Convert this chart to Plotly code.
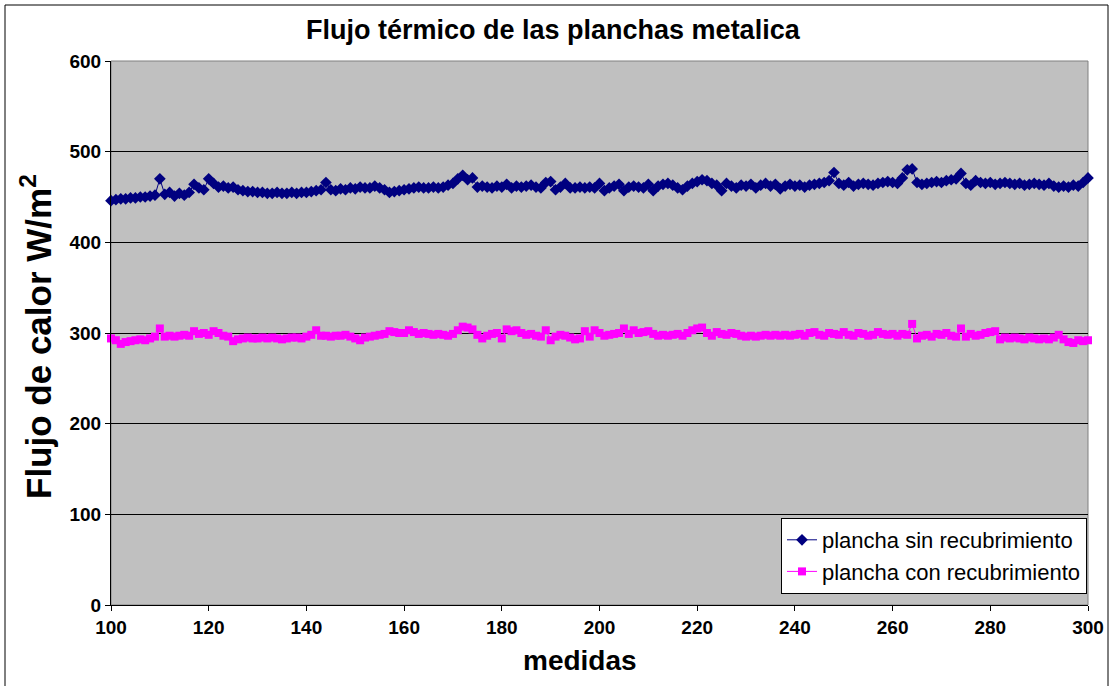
import plotly.graph_objects as go

medidas = list(range(100, 301))

sin_recubrimiento = [
    446, 447, 448, 448, 449, 449, 450, 450, 451, 452,
    470, 453, 455, 451, 454, 452, 455, 464, 460, 458,
    470, 465, 461, 462, 460, 461, 458, 457, 456, 456,
    455, 455, 454, 454, 455, 454, 454, 455, 454, 455,
    455, 456, 457, 458, 466, 458, 457, 459, 458, 460,
    459, 461, 460, 460, 462, 460, 458, 455, 456, 457,
    458, 459, 460, 461, 460, 460, 461, 460, 461, 463,
    465, 470, 474, 469, 471, 461, 462, 461, 460, 462,
    461, 464, 460, 462, 461, 462, 463, 461, 460, 466,
    467, 458, 461, 465, 460, 460, 461, 460, 461, 460,
    465, 457, 460, 462, 464, 457, 461, 462, 461, 460,
    464, 457, 462, 464, 465, 463, 460, 458, 462, 465,
    467, 469, 468, 465, 463, 457, 465, 462, 460, 463,
    462, 464, 460, 463, 465, 462, 464, 459, 462, 464,
    462, 463, 461, 463, 464, 465, 466, 468, 477, 465,
    463, 466, 462, 464, 465, 464, 463, 465, 466, 467,
    466, 465, 471, 480, 481, 466, 464, 465, 466, 467,
    466, 468, 469, 470, 476, 465, 463, 468, 466, 465,
    466, 464, 465, 466, 465, 464, 465, 463, 464, 465,
    464, 463, 465, 462, 461, 462, 461, 463, 462, 466,
    471,
]

con_recubrimiento = [
    294, 292, 288, 290, 291, 292, 293, 292, 294, 296,
    305, 296, 297, 296, 297, 298, 297, 302, 299, 300,
    298, 302, 300, 297, 296, 291, 293, 294, 295, 294,
    294, 295, 294, 295, 294, 293, 294, 295, 295, 294,
    296, 298, 303, 297, 297, 296, 297, 297, 298, 296,
    294, 292, 295, 296, 297, 298, 299, 302, 301, 300,
    300, 303, 301, 299, 300, 299, 298, 299, 298, 297,
    299, 303, 307, 306, 304, 298, 294, 297, 299, 300,
    294, 304, 302, 303, 300, 298, 299, 297, 296, 303,
    292, 296, 298, 297, 295, 293, 294, 302, 296, 303,
    300, 297, 298, 299, 300, 305, 299, 303, 300, 301,
    302, 299, 297, 298, 297, 298, 299, 297, 300, 303,
    305, 306, 300, 297, 301, 299, 298, 300, 299, 297,
    296, 297, 296, 297, 298, 297, 298, 297, 298, 297,
    298, 299, 297, 300, 301, 298, 297, 300, 299, 298,
    301, 298, 297, 300, 299, 297, 298, 301, 299, 298,
    299, 297, 299, 298, 310, 294, 297, 298, 296, 299,
    298, 300, 297, 296, 305, 296, 299, 297, 298, 300,
    301, 302, 293, 295, 294, 295, 294, 293, 295, 294,
    293, 294, 293, 295, 298, 293, 290, 289, 292, 291,
    292,
]

x_ticks = [100, 120, 140, 160, 180, 200, 220, 240, 260, 280, 300]
y_ticks = [0, 100, 200, 300, 400, 500, 600]

FONT = "Liberation Sans, Arial, sans-serif"

fig = go.Figure()
fig.add_trace(go.Scatter(
    x=medidas, y=sin_recubrimiento, mode="lines+markers",
    name="plancha sin recubrimiento",
    line=dict(color="#000080", width=1),
    marker=dict(symbol="diamond", size=9, color="#000080"),
    cliponaxis=False,
))
fig.add_trace(go.Scatter(
    x=medidas, y=con_recubrimiento, mode="lines+markers",
    name="plancha con recubrimiento",
    line=dict(color="#FF00FF", width=1),
    marker=dict(symbol="square", size=8, color="#FF00FF"),
    cliponaxis=False,
))

L, R, T, B = 111, 1088, 61, 605
W, H = 1120, 686
pw, ph = R - L, B - T

def px(xp):
    return (xp - L) / pw

def py(yp):
    return (B - yp) / ph

fig.update_layout(
    width=W, height=H, autosize=False,
    margin=dict(l=L, r=W - R, t=T, b=H - B, pad=0),
    paper_bgcolor="white", plot_bgcolor="#C0C0C0",
    font=dict(family=FONT, color="black"),
    showlegend=True,
    legend=dict(
        x=px(1087), y=py(594), xanchor="right", yanchor="bottom",
        bgcolor="white", bordercolor="black", borderwidth=1,
        font=dict(family=FONT, size=22, color="black"),
        tracegroupgap=0,
    ),
    xaxis=dict(
        range=[100, 300], tickvals=x_ticks, ticktext=[str(v) for v in x_ticks],
        showgrid=False, zeroline=False,
        showline=True, linecolor="black", linewidth=1,
        ticks="outside", ticklen=5, tickcolor="black",
        tickfont=dict(family=FONT, size=19, color="black", weight="bold"),
    ),
    yaxis=dict(
        range=[0, 600], tickvals=y_ticks, ticktext=[str(v) for v in y_ticks],
        showgrid=True, gridcolor="black", gridwidth=1, zeroline=False,
        showline=True, linecolor="black", linewidth=1,
        ticks="outside", ticklen=5, tickcolor="black",
        tickfont=dict(family=FONT, size=19, color="black", weight="bold"),
    ),
    shapes=[
        dict(type="rect", xref="paper", yref="paper", x0=0, x1=1, y0=0, y1=1,
             line=dict(color="#808080", width=1), fillcolor="rgba(0,0,0,0)", layer="below"),
        dict(type="rect", xref="paper", yref="paper",
             x0=px(5), x1=px(1108), y0=py(700), y1=py(5),
             line=dict(color="black", width=1), fillcolor="rgba(0,0,0,0)"),
    ],
    annotations=[
        dict(text="<b>Flujo térmico de las planchas metalica</b>", xref="paper", yref="paper",
             x=px(553), y=py(30), xanchor="center", yanchor="middle", showarrow=False,
             font=dict(family=FONT, size=27, color="black")),
        dict(text="<b>medidas</b>", xref="paper", yref="paper",
             x=px(580), y=py(660), xanchor="center", yanchor="middle", showarrow=False,
             font=dict(family=FONT, size=28, color="black")),
        dict(text="<b>Flujo de calor W/m<sup>2</sup></b>", xref="paper", yref="paper",
             x=px(36), y=py(337), xanchor="center", yanchor="middle", showarrow=False,
             textangle=-90, font=dict(family=FONT, size=35, color="black")),
    ],
)

fig.write_html("out.html")
